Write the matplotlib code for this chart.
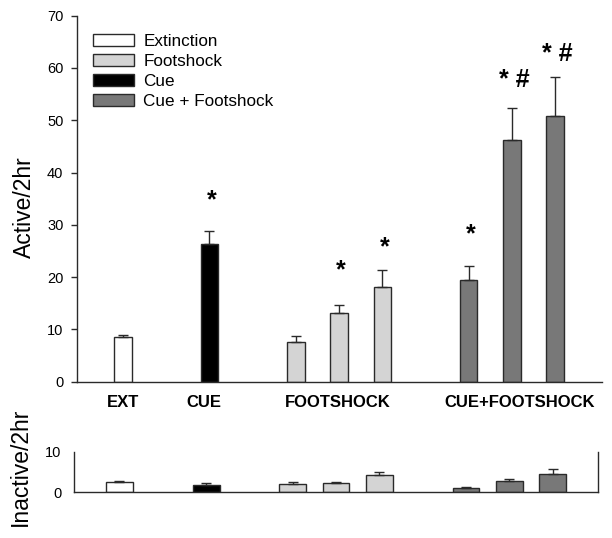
import matplotlib
matplotlib.use("Agg")
import matplotlib.pyplot as plt
from matplotlib.patches import Patch
import numpy as np

plt.rcParams['font.family'] = ['Liberation Sans', 'DejaVu Sans']

# ---- data ----
groups = ["EXT", "CUE", "FOOTSHOCK", "CUE+FOOTSHOCK"]
conditions = ["Extinction", "Footshock", "Cue", "Cue + Footshock"]
cond_colors = {"Extinction": "#ffffff", "Footshock": "#d4d4d4",
               "Cue": "#000000", "Cue + Footshock": "#787878"}

bar_group = [0, 1, 2, 2, 2, 3, 3, 3]
bar_cond = ["Extinction", "Cue", "Footshock", "Footshock", "Footshock",
            "Cue + Footshock", "Cue + Footshock", "Cue + Footshock"]
bar_pos = [0, 2, 4, 5, 6, 8, 9, 10]

active = [8.5, 26.4, 7.5, 13.1, 18.2, 19.5, 46.3, 50.8]
active_err = [0.4, 2.5, 1.2, 1.6, 3.2, 2.6, 6.0, 7.4]
inactive = [2.46, 1.72, 2.04, 2.2, 4.3, 1.14, 2.87, 4.5]
inactive_err = [0.4, 0.5, 0.4, 0.4, 0.8, 0.25, 0.4, 1.3]

sig_marks = ["", "*", "", "*", "*", "*", "* #", "* #"]
sig_y = [None, 35.4, None, 22.0, 26.5, 29.0, 58.5, 63.4]

active_ticks = [0, 10, 20, 30, 40, 50, 60, 70]
inactive_ticks = [0, 10]

# ---- layout ----
label_shift = [0.0, -0.12, -0.03, 0.17]   # small horizontal nudges of group labels

W, H = 612, 538
fig = plt.figure(figsize=(W / 100, H / 100), dpi=100)

def px_axes(l, t, r, b):
    return fig.add_axes([l / W, 1 - b / H, (r - l) / W, (b - t) / H])

ax = px_axes(77.3, 15.6, 601.7, 381.7)
ax2 = px_axes(74.0, 451.7, 597.7, 492.3)

edge = "#2a2a2a"
colors = [cond_colors[c] for c in bar_cond]
zeros = np.zeros(len(active))

ax.bar(bar_pos, active, width=0.405, color=colors, edgecolor=edge, linewidth=1.0,
       yerr=[zeros, active_err], error_kw=dict(ecolor=edge, elinewidth=1.0,
                                               capsize=3.8, capthick=1.0))
ax.set_xlim(-1.06, 11.08)
ax.set_ylim(0, 70)
ax.set_yticks(active_ticks)
for s in ["top", "right"]:
    ax.spines[s].set_visible(False)
for s in ["left", "bottom"]:
    ax.spines[s].set_color(edge)
    ax.spines[s].set_linewidth(1.0)
ax.tick_params(axis="y", length=4, width=1.0, color=edge, labelsize=10.5, pad=6)
ax.tick_params(axis="x", length=0, labelbottom=False)

for x, m, yv in zip(bar_pos, sig_marks, sig_y):
    if m:
        ax.annotate(m, (x + 0.05, yv), xytext=(0, -3), textcoords="offset points",
                    ha="center", va="center", fontsize=18, fontweight="bold")

# group labels
for gi, g in enumerate(groups):
    xs = [p for p, gg in zip(bar_pos, bar_group) if gg == gi]
    xc = np.mean(xs) + label_shift[gi]
    ax.text(xc, -4.05, g, ha="center", va="center", fontsize=12,
            fontweight="bold", clip_on=False)

handles = [Patch(facecolor=cond_colors[c], edgecolor=edge, linewidth=1.0)
           for c in conditions]
ax.legend(handles, conditions, loc="upper left",
          bbox_to_anchor=((93 - 77.3) / 524.4, 1 - (34 - 15.6) / 366.1),
          frameon=False, fontsize=12.3, handlelength=2.4, handleheight=0.7,
          handletextpad=0.55, labelspacing=0.3, borderaxespad=0, borderpad=0)

ax2.bar(bar_pos, inactive, width=0.62, color=colors, edgecolor=edge, linewidth=1.0,
        yerr=[zeros, inactive_err], error_kw=dict(ecolor=edge, elinewidth=1.0,
                                                  capsize=3.8, capthick=1.0))
ax2.set_xlim(-1.05, 11.04)
ax2.set_ylim(0, 10)
ax2.set_yticks(inactive_ticks)
ax2.spines["top"].set_visible(False)
for s in ["left", "bottom", "right"]:
    ax2.spines[s].set_color(edge)
    ax2.spines[s].set_linewidth(1.0)
ax2.tick_params(axis="y", length=0, labelsize=10.5, pad=9)
ax2.tick_params(axis="x", length=0, labelbottom=False)

fig.text(24 / W, 1 - 207 / H, "Active/2hr", rotation=90, ha="center", va="center",
         fontsize=16.5)
fig.text(20 / W, 1 - 467 / H, "Inactive/2hr", rotation=90, ha="center", va="center",
         fontsize=16.5)

fig.savefig("out.png", dpi=100)
